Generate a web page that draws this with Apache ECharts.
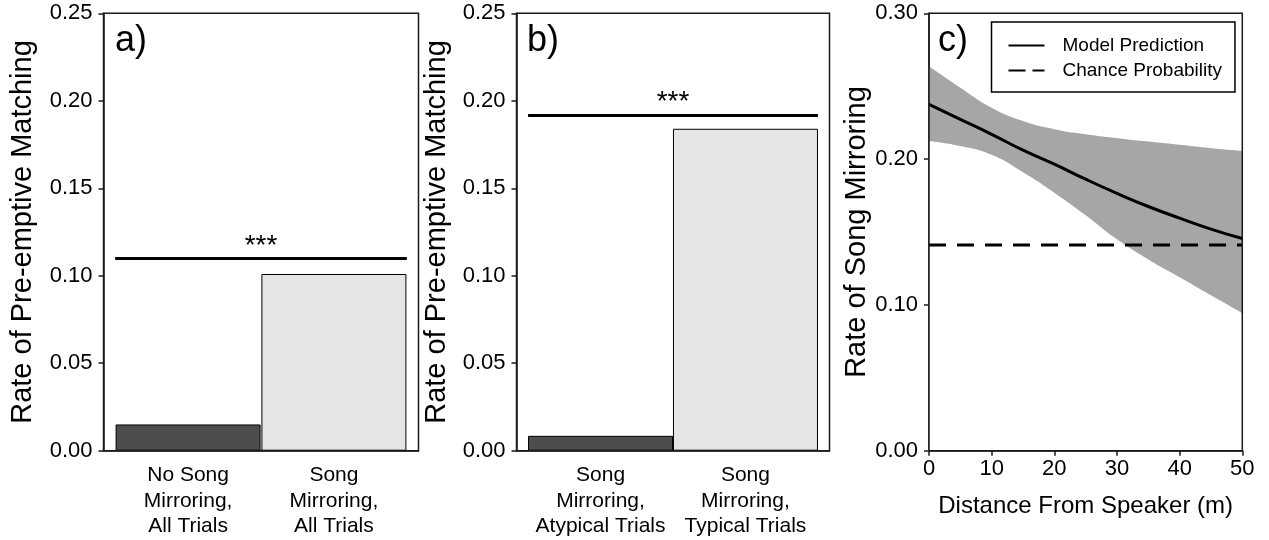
<!DOCTYPE html>
<html>
<head>
<meta charset="utf-8">
<script src="https://cdn.jsdelivr.net/npm/echarts@6/dist/echarts.min.js"></script>
<style>
  html, body { margin: 0; padding: 0; background: #fff; }
  #chart { width: 1269px; height: 540px; }
</style>
</head>
<body>
<div id="chart"></div>
<script>
// panel a
var groupsA = ['No Song\nMirroring,\nAll Trials', 'Song\nMirroring,\nAll Trials'];
var ratesA = [0.015, 0.101];
var sigA = 0.110;
// panel b
var groupsB = ['Song\nMirroring,\nAtypical Trials', 'Song\nMirroring,\nTypical Trials'];
var ratesB = [0.0085, 0.184];
var sigB = 0.192;
// panel c
var distance = [0, 5, 10, 15, 20, 25, 30, 35, 40, 45, 50];
var predicted = [0.2375, 0.2273, 0.2170, 0.2061, 0.1965, 0.1862, 0.1765, 0.1675, 0.1595, 0.1520, 0.1455];
var lowerCI = [0.2125, 0.2090, 0.2030, 0.1910, 0.1770, 0.1615, 0.1450, 0.1312, 0.1190, 0.1066, 0.0944];
var upperCI = [0.2636, 0.2489, 0.2352, 0.2261, 0.2205, 0.2170, 0.2143, 0.2120, 0.2098, 0.2075, 0.2057];
var chance = 0.141;

var barPos = [1, 2];
var barColors = ['#4d4d4d', '#e5e5e5'];
var font = '"Liberation Sans", Arial, sans-serif';
var ink = '#1a1a1a';

function frameGrid(left, width) {
  return {left: left, top: 13.3, width: width, height: 437.4, show: true,
    borderColor: ink, borderWidth: 1.5, backgroundColor: 'transparent', z: 5};
}

function rateAxis(idx, max, step, name, gap) {
  return {
    gridIndex: idx, type: 'value', min: 0, max: max, interval: step,
    name: name, nameLocation: 'middle', nameGap: gap,
    nameTextStyle: {fontSize: 29, color: '#000', fontFamily: font},
    axisLine: {show: true, lineStyle: {color: ink, width: 1.5}},
    axisTick: {show: true, length: 5, lineStyle: {color: ink, width: 1.5}},
    axisLabel: {fontSize: 22, color: '#000', fontFamily: font, margin: 11,
      formatter: function (v) { return v.toFixed(2); }},
    splitLine: {show: false}
  };
}

function groupAxis(idx, labels) {
  return {
    gridIndex: idx, type: 'value', min: 0.42, max: 2.58,
    axisLine: {show: true, onZero: false, lineStyle: {color: ink, width: 1.5}},
    axisTick: {show: false},
    axisLabel: {customValues: barPos, fontSize: 21, lineHeight: 25.5, color: '#000',
      fontFamily: font, margin: 12,
      formatter: function (v) { return labels[Math.round(v) - 1]; }},
    splitLine: {show: false}
  };
}

function barSeries(idx, rates, sig) {
  return {
    type: 'bar', xAxisIndex: idx, yAxisIndex: idx, barWidth: 145,
    data: rates.map(function (r, i) {
      return {value: [barPos[i], r], itemStyle: {color: barColors[i]}};
    }),
    itemStyle: {borderColor: '#000', borderWidth: 1},
    markLine: {
      symbol: 'none', silent: true,
      lineStyle: {color: '#000', width: 3, type: 'solid'},
      label: {show: true, position: 'middle', formatter: '***', fontSize: 28,
        color: '#000', fontFamily: font, distance: -2},
      data: [[{coord: [0.5, sig]}, {coord: [2.5, sig]}]]
    }
  };
}

function panelTitle(text, left) {
  return {text: text, left: left, top: 23, padding: 0,
    textStyle: {fontSize: 36, fontWeight: 'normal', color: '#000', fontFamily: font}};
}

var option = {
  animation: false,
  textStyle: {fontFamily: font},
  title: [panelTitle('a)', 115), panelTitle('b)', 527), panelTitle('c)', 938)],
  legend: {
    orient: 'vertical', left: 991.5, top: 22,
    data: ['Model Prediction', {name: 'Chance Probability', lineStyle: {type: [17, 7]}}],
    itemWidth: 36, itemHeight: 14, itemGap: 6,
    itemStyle: {color: 'transparent', borderWidth: 0, opacity: 0},
    borderColor: '#000', borderWidth: 1.5, borderRadius: 0,
    padding: [14, 13, 12, 16],
    textStyle: {fontSize: 19, color: '#000', fontFamily: font, padding: [0, 0, 0, 13]}
  },
  grid: [frameGrid(103.5, 315), frameGrid(516.5, 313), frameGrid(929, 313.3)],
  xAxis: [
    groupAxis(0, groupsA),
    groupAxis(1, groupsB),
    {
      gridIndex: 2, type: 'value', min: 0, max: 50, interval: 10,
      name: 'Distance From Speaker (m)', nameLocation: 'middle', nameGap: 44,
      nameTextStyle: {fontSize: 24, color: '#000', fontFamily: font},
      axisLine: {show: true, onZero: false, lineStyle: {color: ink, width: 1.5}},
      axisTick: {show: true, length: 5, lineStyle: {color: ink, width: 1.5}},
      axisLabel: {fontSize: 22, color: '#000', fontFamily: font, margin: 7},
      splitLine: {show: false}
    }
  ],
  yAxis: [
    rateAxis(0, 0.25, 0.05, 'Rate of Pre-emptive Matching', 66),
    rateAxis(1, 0.25, 0.05, 'Rate of Pre-emptive Matching', 65),
    rateAxis(2, 0.30, 0.10, 'Rate of Song Mirroring', 58)
  ],
  series: [
    barSeries(0, ratesA, sigA),
    barSeries(1, ratesB, sigB),
    // confidence band: grey under the upper bound, then white under the lower bound
    {
      type: 'line', xAxisIndex: 2, yAxisIndex: 2, symbol: 'none',
      smooth: true, silent: true, lineStyle: {width: 0},
      areaStyle: {color: '#a6a6a6', opacity: 1, origin: 'start'},
      data: distance.map(function (d, i) { return [d, upperCI[i]]; })
    },
    {
      type: 'line', xAxisIndex: 2, yAxisIndex: 2, symbol: 'none',
      smooth: true, silent: true, lineStyle: {width: 0},
      areaStyle: {color: '#ffffff', opacity: 1, origin: 'start'},
      data: distance.map(function (d, i) { return [d, lowerCI[i]]; })
    },
    {
      name: 'Model Prediction', type: 'line', xAxisIndex: 2, yAxisIndex: 2,
      symbol: 'none', smooth: true, lineStyle: {color: '#000', width: 3},
      itemStyle: {color: '#000'},
      data: distance.map(function (d, i) { return [d, predicted[i]]; })
    },
    {
      name: 'Chance Probability', type: 'line', xAxisIndex: 2, yAxisIndex: 2,
      symbol: 'none', lineStyle: {color: '#000', width: 3, type: [17, 11]},
      itemStyle: {color: '#000'},
      data: [[0, chance], [50, chance]]
    }
  ]
};

var myChart = echarts.init(document.getElementById('chart'));
myChart.setOption(option);
</script>
</body>
</html>
